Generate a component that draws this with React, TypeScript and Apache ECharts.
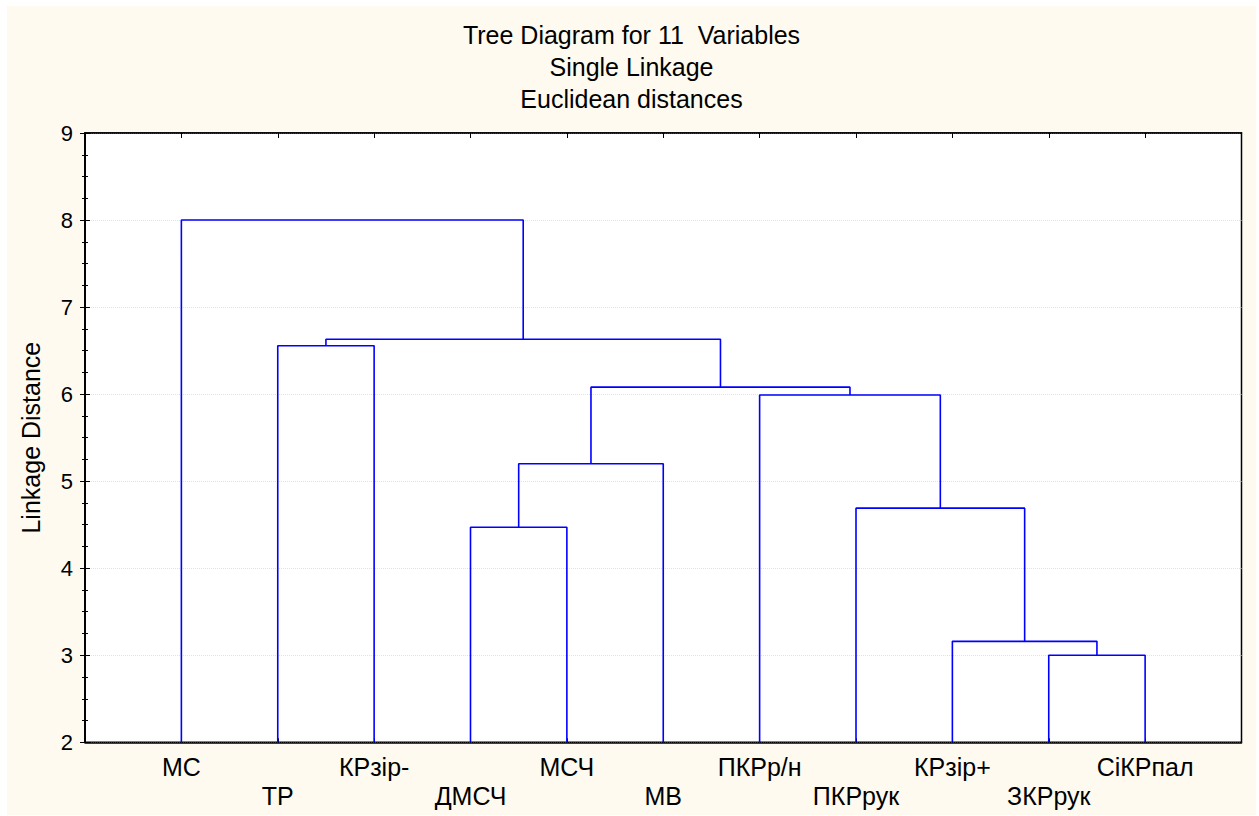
import React, { useEffect, useRef } from "react";
import * as echarts from "echarts";

// Leaves in dendrogram order (left to right)
const leaves = ["МС", "ТР", "КРзір-", "ДМСЧ", "МСЧ", "МВ", "ПКРр/н", "ПКРрук", "КРзір+", "ЗКРрук", "СіКРпал"];
// Merge steps: node ids 0..10 are leaves, 11.. are the clusters created by each step in turn
const mergeLeft = [9, 8, 7, 3, 14, 6, 15, 1, 18, 0];
const mergeRight = [10, 11, 12, 4, 5, 13, 16, 2, 17, 19];
const mergeHeights = [3.0, 3.16, 4.69, 4.47, 5.2, 5.99, 6.08, 6.555, 6.63, 8.0];

const titleLines = ["Tree Diagram for 11  Variables", "Single Linkage", "Euclidean distances"];
const yAxisName = "Linkage Distance";
const yMin = 2;
const yMax = 9;

const FONT = "'Liberation Sans', Arial, sans-serif";
const BLUE = "#0000ff";

export default function App() {
  const ref = useRef<HTMLDivElement>(null);

  useEffect(() => {
    if (!ref.current) return;
    const chart = echarts.init(ref.current, undefined, { renderer: "svg" });

    const nx: number[] = leaves.map((_, i) => i + 1);
    const ny: number[] = leaves.map(() => yMin);
    const series: any[] = [];
    mergeHeights.forEach((h, k) => {
      const l = mergeLeft[k];
      const r = mergeRight[k];
      const id = leaves.length + k;
      nx[id] = (nx[l] + nx[r]) / 2;
      ny[id] = h;
      series.push({
        type: "line",
        xAxisIndex: 0,
        yAxisIndex: 0,
        symbol: "none",
        silent: true,
        lineStyle: { color: BLUE, width: 1.6 },
        data: [
          [nx[l], ny[l]],
          [nx[l], h],
          [nx[r], h],
          [nx[r], ny[r]],
        ],
      });
    });

    const baseX = {
      type: "value",
      min: 0,
      max: leaves.length + 1,
      interval: 1,
      splitLine: { show: false },
    };
    const labelFor = (parity: number) => (v: number) => {
      const i = Math.round(v);
      if (i < 1 || i > leaves.length) return "";
      return i % 2 === parity ? leaves[i - 1] : "";
    };

    chart.setOption({
      animation: false,
      backgroundColor: "#fffaf0",
      textStyle: { fontFamily: FONT },
      title: {
        text: titleLines.join("\n"),
        left: "center",
        top: 13,
        padding: 0,
        textStyle: {
          fontFamily: FONT,
          fontSize: 25,
          lineHeight: 32,
          fontWeight: "normal",
          color: "#000",
        },
      },
      grid: {
        left: 78,
        top: 127,
        right: 14.5,
        bottom: 72.7,
        show: true,
        backgroundColor: "#fff",
        borderColor: "#000",
        borderWidth: 1.5,
      },
      xAxis: [
        {
          ...baseX,
          position: "bottom",
          axisLine: { show: true, lineStyle: { color: "#000", width: 1.5 } },
          axisTick: { show: true, inside: true, length: 4, lineStyle: { color: "#000" } },
          axisLabel: {
            show: true,
            formatter: labelFor(1),
            fontFamily: FONT,
            fontSize: 25,
            lineHeight: 25,
            color: "#000",
            margin: 12.5,
            showMinLabel: true,
            showMaxLabel: true,
          },
        },
        {
          ...baseX,
          position: "bottom",
          axisLine: { show: false },
          axisTick: { show: false },
          axisLabel: {
            show: true,
            formatter: labelFor(0),
            fontFamily: FONT,
            fontSize: 25,
            lineHeight: 25,
            color: "#000",
            margin: 41,
            showMinLabel: true,
            showMaxLabel: true,
          },
        },
        {
          ...baseX,
          position: "top",
          axisLine: { show: true, lineStyle: { color: "#000", width: 1.5 } },
          axisTick: { show: true, inside: true, length: 5, lineStyle: { color: "#000" } },
          axisLabel: { show: false },
        },
      ],
      yAxis: [
        {
          type: "value",
          position: "left",
          min: yMin,
          max: yMax,
          interval: 1,
          name: yAxisName,
          nameLocation: "middle",
          nameRotate: 90,
          nameGap: 42,
          nameTextStyle: { fontFamily: FONT, fontSize: 25, color: "#000" },
          axisLine: { show: true, lineStyle: { color: "#000", width: 1.5 } },
          axisTick: { show: true, inside: true, length: 5, lineStyle: { color: "#000" } },
          minorTick: { show: true, splitNumber: 4, length: 3, lineStyle: { color: "#000" } },
          splitLine: { show: true, lineStyle: { color: "#e2e2e2", type: "dotted", width: 1 } },
          axisLabel: { fontFamily: FONT, fontSize: 22, color: "#000", margin: 12 },
        },
        {
          type: "value",
          position: "right",
          min: yMin,
          max: yMax,
          interval: 1,
          axisLine: { show: true, lineStyle: { color: "#000", width: 1.5 } },
          axisTick: { show: true, inside: true, length: 5, lineStyle: { color: "#000" } },
          minorTick: { show: true, splitNumber: 4, length: 3, lineStyle: { color: "#000" } },
          splitLine: { show: false },
          axisLabel: { show: false },
        },
      ],
      series,
    });

    return () => chart.dispose();
  }, []);

  return (
    <div
      ref={ref}
      style={{ position: "absolute", left: 7, top: 6, width: 1249, height: 809 }}
    />
  );
}
